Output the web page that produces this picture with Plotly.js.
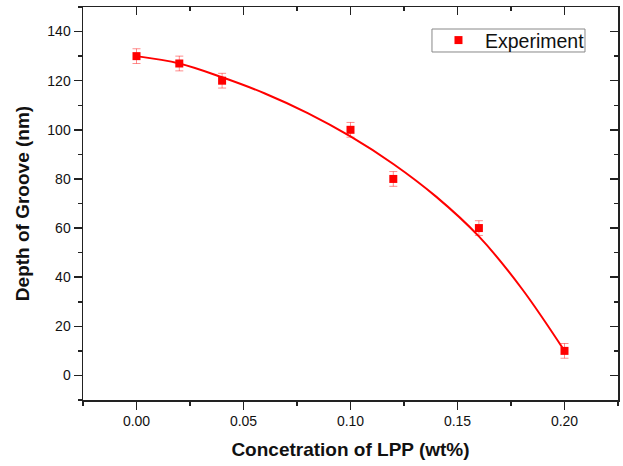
<!DOCTYPE html>
<html>
<head>
<meta charset="utf-8">
<script src="https://cdn.plot.ly/plotly-3.0.1.min.js"></script>
<style>html,body{margin:0;padding:0;background:#fff;}#chart{width:623px;height:466px;}</style>
</head>
<body>
<div id="chart"></div>
<script>
// Experimental data
var concentration = [0.00, 0.02, 0.04, 0.10, 0.12, 0.16, 0.20];
var depth = [130, 127, 120, 100, 80, 60, 10];
var depthErr = [3, 3, 3, 3, 3, 3, 3];

// Fitted curve
var fitX = [0.00, 0.02, 0.04, 0.06, 0.08, 0.10, 0.12, 0.14, 0.16, 0.18, 0.20];
var fitY = [130, 127.0, 121.4, 114.8, 106.8, 97.3, 86.1, 72.8, 56.6, 35.4, 10];

var seriesName = 'Experiment';
var xTitle = 'Concetration of LPP (wt%)';
var yTitle = 'Depth of Groove (nm)';

var fontFam = '"Liberation Sans", Arial, sans-serif';

var traces = [
  {
    x: fitX, y: fitY, mode: 'lines', type: 'scatter',
    line: {color: '#ff0000', width: 2, shape: 'spline', smoothing: 1},
    showlegend: false, hoverinfo: 'skip'
  },
  {
    x: concentration, y: depth, mode: 'markers', type: 'scatter', name: seriesName,
    marker: {symbol: 'square', size: 8, color: '#ff0000'},
    error_y: {type: 'data', array: depthErr, visible: true, color: 'rgba(255,0,0,0.45)', thickness: 1, width: 4}
  },
  {
    x: [0], y: [0], xaxis: 'x2', yaxis: 'y2', mode: 'markers', type: 'scatter',
    marker: {opacity: 0}, showlegend: false, hoverinfo: 'skip'
  }
];

var axisCommon = {
  showgrid: false, zeroline: false, showline: true, linecolor: '#222', linewidth: 1.5,
  tickcolor: '#222', tickwidth: 1.5, ticklen: 8,
  tickfont: {family: fontFam, size: 14, color: '#111'}
};

var layout = {
  width: 623, height: 466,
  margin: {l: 83, r: 5, t: 7, b: 66},
  paper_bgcolor: '#fff', plot_bgcolor: '#fff',
  font: {family: fontFam},
  showlegend: true,
  legend: {
    x: 0.6523, y: 0.915, xanchor: 'left', yanchor: 'middle',
    borderwidth: 0, bgcolor: 'rgba(0,0,0,0)', itemwidth: 43,
    font: {family: fontFam, size: 19.5, color: '#111'}
  },
  shapes: [{
    type: 'rect', xref: 'paper', yref: 'paper',
    x0: 0.6523, x1: 0.9383, y0: 0.8855, y1: 0.944,
    line: {color: '#888', width: 1}, fillcolor: 'rgba(0,0,0,0)', layer: 'above'
  }],
  xaxis: Object.assign({}, axisCommon, {
    range: [-0.025, 0.225], dtick: 0.05, tick0: 0, tickformat: '.2f', ticks: 'outside',
    minor: {dtick: 0.025, tick0: 0, ticklen: 4, tickwidth: 1.5, tickcolor: '#222', ticks: 'outside'},
    title: {text: xTitle, font: {family: fontFam, size: 19, color: '#111', weight: 'bold'}, standoff: 14}
  }),
  yaxis: Object.assign({}, axisCommon, {
    range: [-10, 150], dtick: 20, tick0: 0, ticks: 'outside',
    minor: {dtick: 10, tick0: 0, ticklen: 4, tickwidth: 1.5, tickcolor: '#222', ticks: 'outside'},
    title: {text: yTitle, font: {family: fontFam, size: 19, color: '#111', weight: 'bold'}, standoff: 12}
  }),
  xaxis2: Object.assign({}, axisCommon, {
    overlaying: 'x', side: 'top', anchor: 'y2', range: [-0.025, 0.225], dtick: 0.05, tick0: 0,
    ticks: 'inside', showticklabels: false,
    minor: {dtick: 0.025, tick0: 0, ticklen: 4, tickwidth: 1.5, tickcolor: '#222', ticks: 'inside'}
  }),
  yaxis2: Object.assign({}, axisCommon, {
    overlaying: 'y', side: 'right', anchor: 'x2', range: [-10, 150], dtick: 20, tick0: 0,
    ticks: 'inside', showticklabels: false,
    minor: {dtick: 10, tick0: 0, ticklen: 4, tickwidth: 1.5, tickcolor: '#222', ticks: 'inside'}
  })
};

Plotly.newPlot('chart', traces, layout, {staticPlot: true, displayModeBar: false});
</script>
</body>
</html>
